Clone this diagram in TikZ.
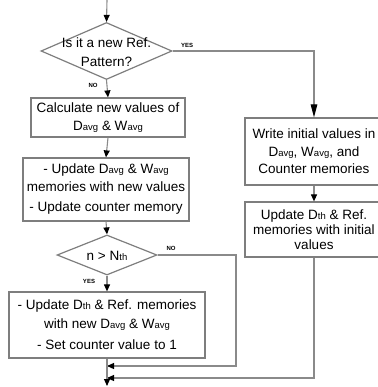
\documentclass[tikz,border=0pt]{standalone}
\usepackage{fontspec}
\setmainfont{Liberation Sans}
\usetikzlibrary{arrows.meta,shapes.geometric}
\definecolor{linegray}{HTML}{8A8A8A}
\definecolor{boxgray}{HTML}{7E7E7E}
\newcommand\smsub[1]{{\fontsize{9.5}{10}\selectfont #1}}
\begin{document}
\begin{tikzpicture}[x=1pt,y=-1pt,
  line/.style={draw=linegray, line width=1.1pt},
  arr/.style={line, -{Triangle[width=6pt,length=7pt,color=black]}},
  longarr/.style={line, -{Triangle[width=6.5pt,length=13pt,color=black]}},
  box/.style={draw=boxgray, line width=1.2pt, rectangle, inner sep=0pt, align=center, font=\fontsize{13.5}{17.5}\selectfont},
  dia/.style={draw=boxgray, line width=1.2pt, diamond, inner sep=0pt},
  lbl/.style={font=\fontsize{6}{6}\selectfont\bfseries, inner sep=0pt},
  txt/.style={align=center, inner sep=0pt, font=\fontsize{13.5}{19}\selectfont}]
\useasboundingbox (0,0) rectangle (377,387);

% decisions
\node[dia, minimum width=131pt, minimum height=57pt] (d1) at (106.5,51) {};
\node[txt] (d1t) at (106.5,52) {Is it a new Ref.\\Pattern?};
\node[dia, minimum width=100pt, minimum height=40pt] (d2) at (107,255) {};
\node[txt] (d2t) at (107,256) {n > N\smsub{th}};

% boxes
\node[box, minimum width=154pt, minimum height=39pt] (b1) at (108,117.5)
  {Calculate new values of\\ D\smsub{avg} \& W\smsub{avg}};
\node[box, minimum width=166pt, minimum height=63pt] (b2) at (106,189.5)
  {- Update D\smsub{avg} \& W\smsub{avg}\\ memories with new values\\[3pt] - Update counter memory};
\node[box, minimum width=196pt, minimum height=66pt] (b3) at (107,325)
  {- Update D\smsub{th} \& Ref. memories\\[1pt] with new D\smsub{avg} \& W\smsub{avg}\\[4pt] - Set counter value to 1};
\node[box, minimum width=138pt, minimum height=67pt] (b4) at (314,151.5)
  {Write initial values in\\ D\smsub{avg}, W\smsub{avg}, and\\ Counter memories};
\node[box, minimum width=138pt, minimum height=55pt, font=\fontsize{13.5}{15}\selectfont] (b5) at (314,229.5)
  {Update D\smsub{th} \& Ref.\\ memories with initial\\ values};

% helper coordinates
\coordinate (top) at (107,0);
\coordinate (yesc) at (314,51);
\coordinate (noc) at (236,255);
\coordinate (noc2) at (236,366);
\coordinate (m1) at (107,366);
\coordinate (rc) at (314,378);
\coordinate (m2) at (107,378);
\coordinate (bot) at (107,386);

% connectors
\draw[arr] (top) -- (d1.north);
\draw[arr] (d1.south) -- (b1.north);
\draw[longarr] (d1.east) -- (yesc) -- (b4.north);
\draw[arr] (b1.south) -- (b2.north);
\draw[arr] (b2.south) -- (d2.north);
\draw[arr] (d2.south) -- (b3.north);
\draw[arr] (d2.east) -- (noc) -- (noc2) -- (m1);
\draw[arr] (b4.south) -- (b5.north);
\draw[arr] (b5.south) -- (rc) -- (m2);
\draw[arr] (b3.south) -- (bot);

% labels
\node[lbl] (yes1) at (187,45) {YES};
\node[lbl] (no1) at (93,85) {NO};
\node[lbl] (no2) at (171,248) {NO};
\node[lbl] (yes2) at (89,281) {YES};
\end{tikzpicture}
\end{document}
